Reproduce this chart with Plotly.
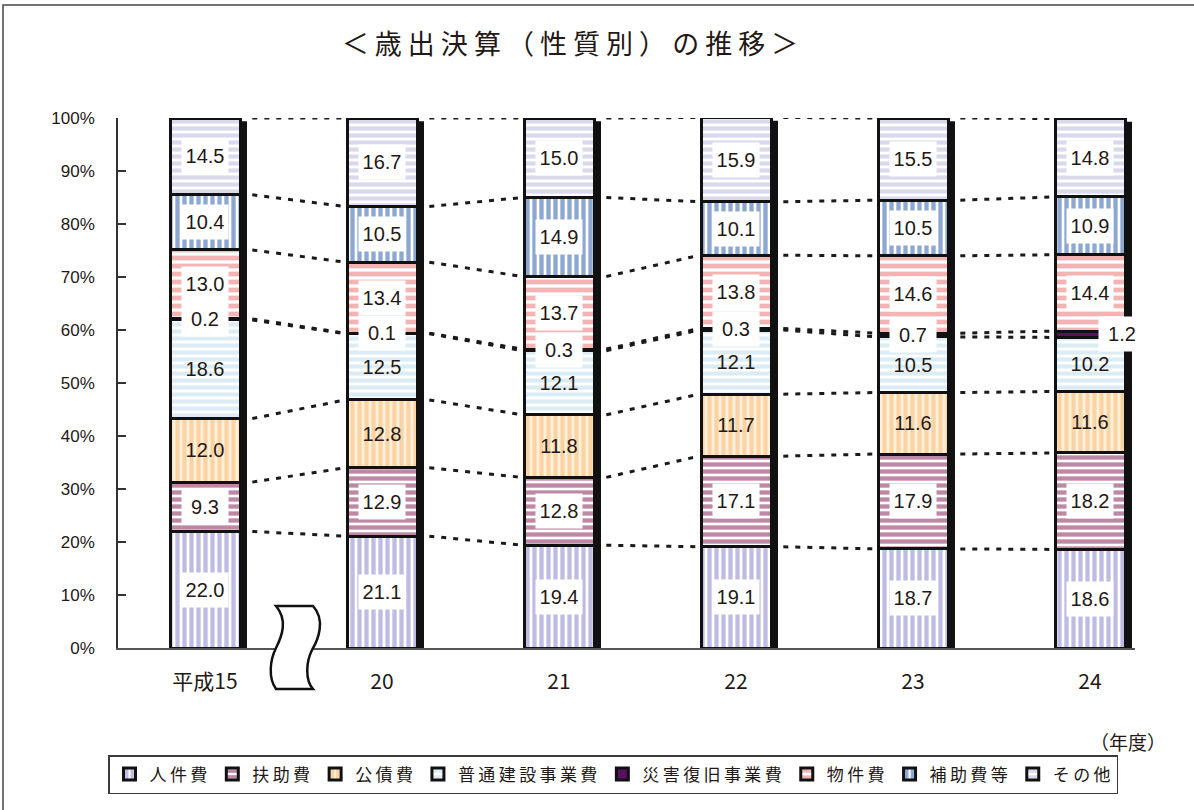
import plotly.graph_objects as go

# ---------------- data ----------------
years = ["平成15", "20", "21", "22", "23", "24"]
series_names = ["人件費", "扶助費", "公債費", "普通建設事業費",
                "災害復旧事業費", "物件費", "補助費等", "その他"]
jinkenhi       = [22.0, 21.1, 19.4, 19.1, 18.7, 18.6]
fujohi         = [9.3, 12.9, 12.8, 17.1, 17.9, 18.2]
kosaihi        = [12.0, 12.8, 11.8, 11.7, 11.6, 11.6]
futsu_kensetsu = [18.6, 12.5, 12.1, 12.1, 10.5, 10.2]
saigai         = [0.2, 0.1, 0.3, 0.3, 0.7, 1.2]
bukkenhi       = [13.0, 13.4, 13.7, 13.8, 14.6, 14.4]
hojohi         = [10.4, 10.5, 14.9, 10.1, 10.5, 10.9]
sonota         = [14.5, 16.7, 15.0, 15.9, 15.5, 14.8]
y_tick_vals = [0, 10, 20, 30, 40, 50, 60, 70, 80, 90, 100]
y_tick_text = ["0%", "10%", "20%", "30%", "40%", "50%", "60%", "70%", "80%", "90%", "100%"]
title_text = "＜歳出決算（性質別）の推移＞"
unit_text = "（年度）"

series_values = [jinkenhi, fujohi, kosaihi, futsu_kensetsu,
                 saigai, bukkenhi, hojohi, sonota]

# ---------------- styles ----------------
styles = [
    dict(shape="|", fg="#8078c6", bg="#ffffff", size=7, sol=0.62, box=True),   # 人件費
    dict(shape="-", fg="#7e1049", bg="#ffffff", size=7, sol=0.62, box=True),   # 扶助費
    dict(shape="|", fg="#f4b670", bg="#fff1d9", size=7, sol=0.6, box=False),   # 公債費
    dict(shape="-", fg="#b8dae9", bg="#ffffff", size=7, sol=0.6, box=False),   # 普通建設事業費
    dict(shape="", fg="#5a1060", bg="#5a1060", size=7, sol=0.5, box=True),     # 災害復旧事業費
    dict(shape="-", fg="#ec6a6a", bg="#ffffff", size=8, sol=0.6, box=True),    # 物件費
    dict(shape="|", fg="#1c4fa8", bg="#ffffff", size=7, sol=0.62, box=True),   # 補助費等
    dict(shape="-", fg="#b4b1dc", bg="#ffffff", size=7, sol=0.6, box=True),    # その他
]

FONT_JP = "Noto Sans CJK JP"
FONT_NUM = "Liberation Sans, Arial, sans-serif"
TXT = "#231815"

# plot area in pixels
L, R, T, B = 118, 1135, 118, 648
W, H = R - L, B - T
PX_PER_CAT = 177.0
x0 = -87.0 / PX_PER_CAT
x_range = [x0, x0 + W / PX_PER_CAT]
BAR_W = 70.0 / PX_PER_CAT
SHADOW = 7.0 / PX_PER_CAT


def pxx(px):
    return (px - L) / W


def pxy(py):
    return (B - py) / H


def spaced(s, sep="\u2009"):
    return sep.join(list(s))


fig = go.Figure()

for name, vals, st in zip(series_names, series_values, styles):
    pattern = dict(shape=st["shape"], fgcolor=st["fg"], bgcolor=st["bg"],
                   size=st["size"], solidity=st["sol"])
    fig.add_trace(go.Bar(
        x=years, y=vals, name=spaced(name), width=BAR_W,
        marker=dict(color=st["bg"] if st["shape"] else st["fg"],
                    pattern=pattern,
                    line=dict(color="#111111", width=3)),
        cliponaxis=False, hoverinfo="y+name",
    ))

# cumulative boundaries
n = len(years)
cum = []
bases = []
for i in range(n):
    c = 0.0
    tops, bs = [], []
    for vals in series_values:
        bs.append(c)
        c += vals[i]
        tops.append(c)
    cum.append(tops)
    bases.append(bs)

shapes = []
# drop shadows
for i in range(n):
    shapes.append(dict(type="rect", xref="x", yref="y",
                       x0=i + BAR_W / 2, x1=i + BAR_W / 2 + SHADOW,
                       y0=0, y1=cum[i][-1] - 0.6,
                       fillcolor="#111111", line=dict(width=0), layer="above"))
# dotted connectors
for i in range(n - 1):
    for k in range(len(series_values)):
        shapes.append(dict(type="line", xref="x", yref="y",
                           x0=i + BAR_W / 2 + SHADOW + 0.03, x1=i + 1 - BAR_W / 2 - 0.01,
                           y0=cum[i][k], y1=cum[i + 1][k],
                           line=dict(color="#1a1a1a", width=3, dash="5px,7px")))


def P(px, py):
    return f"{pxx(px):.5f},{pxy(py):.5f}"


brk = (f"M {P(276,606)} L {P(313,606)} "
       f"C {P(326,620)} {P(318,640)} {P(312,650)} "
       f"C {P(306,662)} {P(305,680)} {P(313,689)} "
       f"L {P(276,689)} "
       f"C {P(268,678)} {P(270,660)} {P(276,648)} "
       f"C {P(282,636)} {P(288,620)} {P(276,606)} Z")
shapes.append(dict(type="path", xref="paper", yref="paper", path=brk,
                   fillcolor="white", line=dict(color="#111111", width=2.5),
                   layer="above"))

# outer frame (top and left edges visible)
shapes.append(dict(type="rect", xref="paper", yref="paper",
                   x0=pxx(3), x1=pxx(1300), y0=pxy(5), y1=pxy(900),
                   line=dict(color="#444444", width=1.5), fillcolor="rgba(0,0,0,0)",
                   layer="above"))

annotations = []
for k, (vals, st) in enumerate(zip(series_values, styles)):
    for i in range(n):
        yc = bases[i][k] + vals[i] / 2
        xc = i
        if k == 4 and vals[i] >= 1.0:
            xc = i + 0.18
        annotations.append(dict(
            x=xc, y=yc, xref="x", yref="y", text=f"{vals[i]:.1f}",
            showarrow=False, font=dict(family=FONT_NUM, size=20, color=TXT),
            bgcolor="white" if st["box"] else "rgba(0,0,0,0)",
            width=44, height=32, borderpad=1, xanchor="center", yanchor="middle"))

annotations.append(dict(x=pxx(1128), y=pxy(741), xref="paper", yref="paper",
                        text=unit_text, showarrow=False, xanchor="center", yanchor="middle",
                        font=dict(family=FONT_JP, size=19, color=TXT)))

fig.update_layout(
    width=1194, height=810,
    margin=dict(l=L, r=1194 - R, t=T, b=810 - B, autoexpand=False),
    paper_bgcolor="white", plot_bgcolor="white",
    barmode="stack",
    title=dict(text=spaced(title_text, " "), x=570 / 1194, xref="container",
               y=1 - 45 / 810, yref="container", xanchor="center", yanchor="middle",
               font=dict(family=FONT_JP, size=27, color=TXT)),
    xaxis=dict(type="category", range=x_range, showgrid=False, zeroline=False,
               showline=True, linecolor="#555555", linewidth=1.5, ticks="",
               tickfont=dict(family=FONT_JP, size=21, color=TXT),
               ticklabelstandoff=14, fixedrange=True, automargin=False),
    yaxis=dict(range=[0, 100], tickmode="array", tickvals=y_tick_vals, ticktext=y_tick_text,
               showgrid=False, zeroline=False, showline=True,
               linecolor="#333333", linewidth=1.5, ticks="inside", ticklen=8,
               tickcolor="#333333", tickwidth=1.5,
               tickfont=dict(family=FONT_NUM, size=17, color=TXT),
               ticklabelstandoff=18, fixedrange=True, automargin=False),
    legend=dict(orientation="h", x=pxx(108), y=pxy(755), xanchor="left",
                yanchor="top", traceorder="normal",
                font=dict(family=FONT_JP, size=17, color=TXT),
                bordercolor="#3a3a3a", borderwidth=1.5, bgcolor="white",
                itemclick=False, itemdoubleclick=False),
    shapes=shapes,
    annotations=annotations,
    showlegend=True,
)

fig.write_html("out.html", config={"displayModeBar": False},
               post_script="document.body.style.margin='0px';document.body.style.overflow='hidden';")
